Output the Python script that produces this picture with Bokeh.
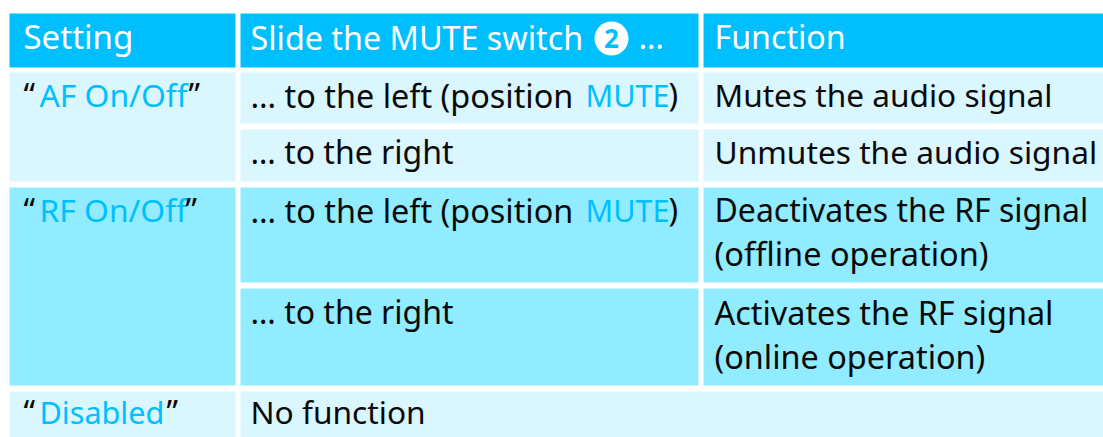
from bokeh.plotting import figure
from bokeh.models import ColumnDataSource, Range1d
from bokeh.core.properties import value
from bokeh.embed import file_html
from bokeh.resources import INLINE

HEAD = "#00BFFF"
LIGHT = "#DAF6FF"
MID = "#91ECFF"
INK = "#0A0A0A"
FONT = "Noto Sans"

# table cells: left, right, top, bottom, colour
cell_left = [9, 240, 703, 9, 240, 703, 240, 703, 9, 240, 703, 240, 703, 9, 240]
cell_right = [235, 698, 1103, 235, 698, 1103, 698, 1103, 235, 698, 1103, 698, 1103, 235, 1103]
cell_top = [13, 13, 13, 72, 72, 72, 129, 129, 187, 187, 187, 288, 288, 391, 391]
cell_bottom = [67, 67, 67, 181, 123, 123, 181, 181, 385, 282, 282, 385, 385, 437, 437]
cell_color = [HEAD, HEAD, HEAD, LIGHT, LIGHT, LIGHT, LIGHT, LIGHT, MID, MID, MID, MID, MID, LIGHT, LIGHT]

# text runs
run_text = ["Setting", "Slide the MUTE switch", "…", "Function",
            "“", "AF On/Off", "”",
            "… to the left (position", "MUTE", ")", "Mutes the audio signal",
            "… to the right", "Unmutes the audio signal",
            "“", "RF On/Off", "”",
            "… to the left (position", "MUTE", ")", "Deactivates the RF signal", "(offline operation)",
            "… to the right", "Activates the RF signal", "(online operation)",
            "“", "Disabled", "”", "No function"]
run_x = [23, 250, 638, 714,
         23, 39, 188,
         250, 585, 668, 714,
         250, 714,
         23, 39, 185,
         250, 585, 668, 714, 714,
         250, 714, 714,
         23, 39, 166, 250]
run_y = [48, 48, 48, 48,
         106, 106, 106,
         106, 106, 106, 106,
         163, 163,
         221, 221, 221,
         221, 221, 221, 221, 265,
         323, 323, 367,
         423, 423, 423, 423]
run_color = ["white", "white", "white", "white",
             INK, HEAD, INK,
             INK, HEAD, INK, INK,
             INK, INK,
             INK, HEAD, INK,
             INK, HEAD, INK, INK, INK,
             INK, INK, INK,
             INK, HEAD, INK, INK]
run_size = ["33px", "32.3px", "32px", "32.2px",
            "32px", "31.8px", "32px",
            "32.4px", "30.5px", "32px", "31.6px",
            "32px", "31.7px",
            "32px", "31.8px", "32px",
            "32.4px", "30.5px", "32px", "32px", "32.5px",
            "32px", "32.4px", "32.4px",
            "32px", "30.6px", "32px", "31.7px"]

p = figure(width=1103, height=437, x_range=Range1d(0, 1103), y_range=Range1d(437, 0),
           toolbar_location=None, output_backend="svg", min_border=0,
           outline_line_color=None, background_fill_color="white", border_fill_color="white")
p.xaxis.visible = False
p.yaxis.visible = False
p.xgrid.visible = False
p.ygrid.visible = False

p.quad(left=cell_left, right=cell_right, top=cell_top, bottom=cell_bottom,
       fill_color=cell_color, line_color=None)
p.circle(x=[611], y=[38], radius=17, fill_color="white", line_color=None)
p.text(x=[611], y=[48], text=["2"], text_color=HEAD, text_font=value(FONT), text_font_size="26px",
       text_font_style="bold", text_align="center", text_baseline="alphabetic", y_offset=-10)
src = ColumnDataSource(dict(x=run_x, y=run_y, text=run_text, color=run_color, size=run_size))
p.text(x="x", y="y", text="text", text_color="color", source=src, text_font=value(FONT),
       text_font_size="size", text_baseline="alphabetic", text_align="left", y_offset=-12)

open("out.html", "w").write(file_html(p, INLINE))
